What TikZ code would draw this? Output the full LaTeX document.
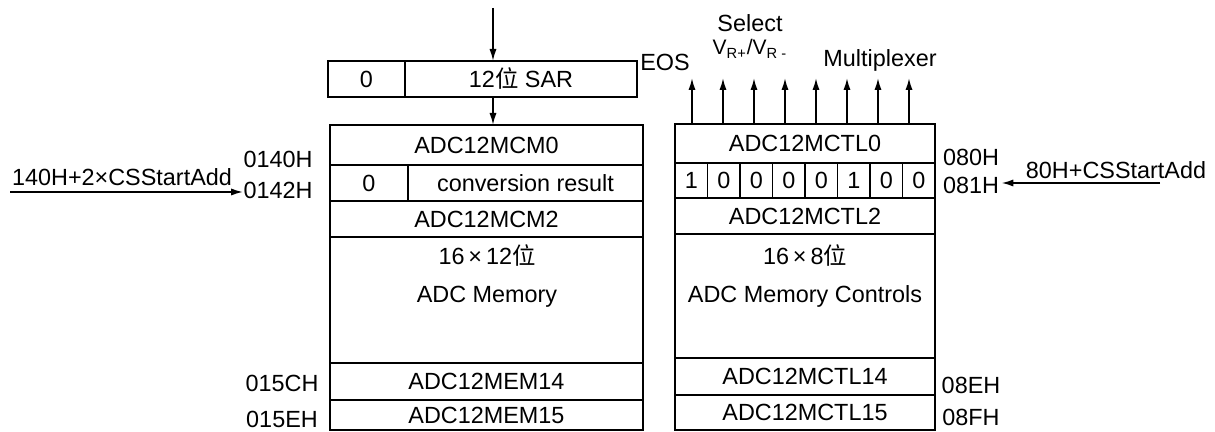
\documentclass[tikz,border=0pt]{standalone}
\usepackage{fontspec}
\setmainfont{Liberation Sans}
\newfontfamily\cjk{Noto Sans CJK SC}
\usetikzlibrary{arrows.meta}

\tikzset{
  cell/.style={draw, line width=0.9pt, inner sep=0pt, outer sep=0pt, anchor=north west},
  addr/.style={inner sep=0pt},
  pin/.style={-{Latex[length=6pt,width=3.6pt]}, line width=0.9pt},
}

\begin{document}
\begin{tikzpicture}[x=0.5pt, y=-0.5pt, font=\fontsize{11.7pt}{19pt}\selectfont]
    \useasboundingbox (0,0) rectangle (1215,432);

    % SAR register
    \node[cell, minimum width=38.5pt, minimum height=18pt] (sarzero) at (328,61) {0};
    \node[cell, minimum width=116pt, minimum height=18pt] (sar) at (405,61) {12{\cjk 位} SAR};

    % Conversion memory
    \node[cell, minimum width=156.5pt, minimum height=20pt] (mcm0) at (330,125) {ADC12MCM0};
    \node[cell, minimum width=39pt, minimum height=18pt] (convzero) at (330,165) {0};
    \node[cell, minimum width=117.5pt, minimum height=18pt] (conv) at (408,165) {conversion result};
    \node[cell, minimum width=156.5pt, minimum height=18pt] (mcm2) at (330,201) {ADC12MCM2};
    \node[cell, minimum width=156.5pt, minimum height=63pt] (mem) at (330,237) {};
    \node[cell, minimum width=156.5pt, minimum height=18.5pt] (mem14) at (330,363) {ADC12MEM14};
    \node[cell, minimum width=156.5pt, minimum height=15pt] (mem15) at (330,400) {ADC12MEM15};
    \node[align=center] (memtxt) at (487,276) {16\,×\,12{\cjk 位}\\ADC Memory};

    % Memory control registers
    \node[cell, minimum width=130pt, minimum height=19.5pt] (mctl0) at (675,124) {ADC12MCTL0};
    \foreach \b [count=\i from 0] in {1,0,0,0,0,1,0,0}
        \node[cell, minimum width=16.25pt, minimum height=17.5pt] (bit\i) at (675+32.5*\i,163) {\b};
    \node[cell, minimum width=130pt, minimum height=18pt] (mctl2) at (675,198) {ADC12MCTL2};
    \node[cell, minimum width=130pt, minimum height=62pt] (ctl) at (675,234) {};
    \node[cell, minimum width=130pt, minimum height=18.5pt] (mctl14) at (675,358) {ADC12MCTL14};
    \node[cell, minimum width=130pt, minimum height=17.5pt] (mctl15) at (675,395) {ADC12MCTL15};
    \node[align=center] (ctltxt) at (805,276) {16\,×\,8{\cjk 位}\\ADC Memory Controls};

    % Addresses
    \node[addr] (a0140) at (278,159) {0140H};
    \node[addr] (a0142) at (278,190) {0142H};
    \node[addr] (a015C) at (282,383) {015CH};
    \node[addr] (a015E) at (282,419) {015EH};
    \node[addr] (a080) at (971,157) {080H};
    \node[addr] (a081) at (971,185) {081H};
    \node[addr] (a08E) at (971,385) {08EH};
    \node[addr] (a08F) at (971,417) {08FH};

    % Control bit outputs
    \node[inner sep=1pt] (sel) at (750,23) {Select};
    \node[inner sep=1pt, font=\fontsize{10.5pt}{12pt}\selectfont] (vref) at (750,49) {V\textsubscript{R+}/V\textsubscript{R -}};
    \node (eos) at (665,62) {EOS};
    \node (mux) at (880,60) {Multiplexer};

    % Start address pointers
    \node (ldesc) at (122,177) {140H+2×CSStartAdd};
    \node (rdesc) at (1116,170) {80H+CSStartAdd};

    % Add arrows
    \coordinate (start) at (493,8);
    \draw[pin] (start) -- (start |- sar.north);
    \draw[pin] (sar.south -| start) -- (mcm0.north -| start);
    \coordinate (lin) at (10,192);
    \draw[pin] (lin) -- (a0142.west |- lin);
    \coordinate (rin) at (1160,183);
    \draw[pin, shorten >=1pt] (rin) -- (a081.east |- rin);
    \foreach \i in {0,...,7} {
        \coordinate (out\i) at (692+31*\i,78);
        \draw[pin] (out\i |- mctl0.north) -- (out\i);
    }
\end{tikzpicture}
\end{document}
